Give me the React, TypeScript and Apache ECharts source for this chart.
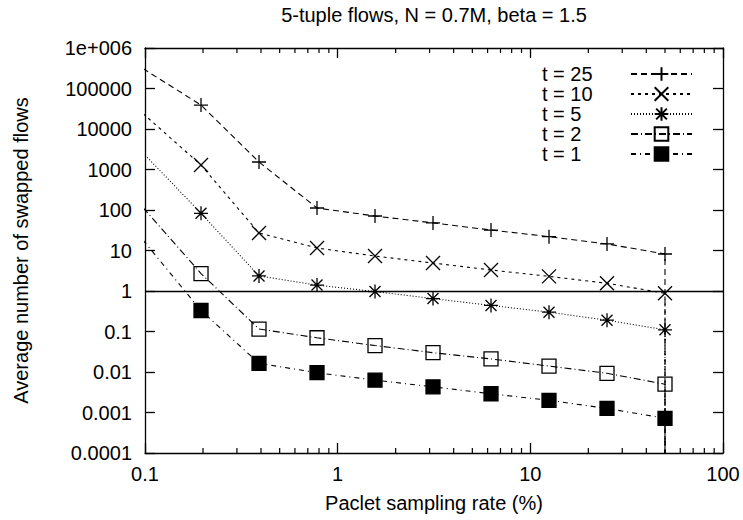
import React, { useEffect, useRef } from 'react';
import * as echarts from 'echarts';

const titleText = '5-tuple flows, N = 0.7M, beta = 1.5';
const xAxisName = 'Paclet sampling rate (%)';
const yAxisName = 'Average number of swapped flows';

const seriesNames = ['t = 25', 't = 10', 't = 5', 't = 2', 't = 1'];
const samplingRates = [0.09765625, 0.1953125, 0.390625, 0.78125, 1.5625, 3.125, 6.25, 12.5, 25, 50];

const t25 = [310000, 39000, 1530, 112, 71, 48, 32, 22, 14.5, 8.2];
const t10 = [24000, 1290, 27, 11.5, 7.3, 4.9, 3.3, 2.3, 1.55, 0.88];
const t5 = [2560, 83, 2.35, 1.4, 0.97, 0.65, 0.44, 0.3, 0.19, 0.11];
const t2 = [114, 2.7, 0.115, 0.07, 0.045, 0.03, 0.021, 0.014, 0.0093, 0.005];
const t1 = [18, 0.33, 0.0164, 0.0096, 0.0063, 0.0043, 0.0029, 0.002, 0.00126, 0.00072];

// value at the last sampling rate that drops to zero (off the log scale)
const tailFloor = 1e-9;
const referenceLevel = 1;

const xTickLabels = ['0.1', '1', '10', '100'];
const yTickLabels = ['0.0001', '0.001', '0.01', '0.1', '1', '10', '100', '1000', '10000', '100000', '1e+006'];
const xMinorTicks = [0.2, 0.3, 0.4, 0.5, 0.6, 0.7, 0.8, 0.9, 2, 3, 4, 5, 6, 7, 8, 9, 20, 30, 40, 50, 60, 70, 80, 90];

const FONT = '"Liberation Sans", Arial, Helvetica, sans-serif';
const FS = 20;

const symbols = [
  'path://M0,7L14,7M7,0L7,14',
  'path://M0,0L14,14M0,14L14,0',
  'path://M0,7L14,7M7,0L7,14M1.5,1.5L12.5,12.5M1.5,12.5L12.5,1.5',
  'rect',
  'rect',
];
const fills = ['#000', '#000', '#000', 'none', '#000'];
const dashes: any[] = [[6, 4], [3, 4], [1, 2], [7, 3, 1, 3], [5, 4, 1, 4]];
const allValues = [t25, t10, t5, t2, t1];

export default function App() {
  const ref = useRef<HTMLDivElement>(null);
  useEffect(() => {
    if (!ref.current) return;
    const chart = echarts.init(ref.current, undefined, { renderer: 'svg' });
    const last = samplingRates[samplingRates.length - 1];

    const lineSeries = allValues.map((vals, si) => ({
      name: seriesNames[si],
      type: 'line',
      data: samplingRates
        .map((x, i) => (i === 0 ? { value: [x, vals[i]], symbol: 'none' } : { value: [x, vals[i]] }))
        .concat([{ value: [last, tailFloor], symbol: 'none' }]),
      symbol: symbols[si],
      symbolSize: 14,
      clip: true,
      lineStyle: { color: '#000', width: 1.1, type: dashes[si] },
      itemStyle: { color: fills[si], borderColor: '#000', borderWidth: 1.3 },
      emphasis: { disabled: true },
      z: 3,
      ...(si === 0
        ? {
            markLine: {
              silent: true,
              symbol: ['none', 'none'],
              label: { show: false },
              lineStyle: { color: '#000', type: 'solid', width: 1.3 },
              data: [{ yAxis: referenceLevel }],
            },
          }
        : {}),
    }));

    const minorSeries = {
      type: 'custom',
      silent: true,
      clip: false,
      z: 5,
      data: xMinorTicks.map((v) => [v, referenceLevel]),
      renderItem: (params: any, api: any) => {
        const x = api.coord([api.value(0), referenceLevel])[0];
        const cs = params.coordSys;
        const st = { stroke: '#000', lineWidth: 1.2 };
        return {
          type: 'group',
          children: [
            { type: 'line', shape: { x1: x, y1: cs.y + cs.height, x2: x, y2: cs.y + cs.height - 5 }, style: st },
            { type: 'line', shape: { x1: x, y1: cs.y, x2: x, y2: cs.y + 5 }, style: st },
          ],
        };
      },
    };

    const xFmt = (v: number) => xTickLabels[Math.round(Math.log10(v)) + 1] ?? '';
    const yFmt = (v: number) => yTickLabels[Math.round(Math.log10(v)) + 4] ?? '';
    const axisLine = { show: true, onZero: false, lineStyle: { color: '#000', width: 1.3 } };
    const majorTick = { show: true, inside: true, length: 10, lineStyle: { color: '#000', width: 1.3 } };

    chart.setOption({
      animation: false,
      backgroundColor: '#fff',
      textStyle: { fontFamily: FONT },
      grid: { left: 145, right: 20, top: 48, bottom: 67, containLabel: false },
      graphic: [
        {
          type: 'text',
          x: 434,
          y: 5,
          style: { text: titleText, fill: '#000', font: `${FS}px ${FONT}`, align: 'center', verticalAlign: 'top' },
        },
      ],
      legend: {
        data: seriesNames,
        orient: 'vertical',
        right: 45,
        top: 59,
        align: 'right',
        itemWidth: 61,
        itemHeight: 17,
        itemGap: 0,
        selectedMode: false,
        formatter: (name: string) => `{a|${name}}`,
        textStyle: {
          color: '#000',
          fontFamily: FONT,
          fontSize: FS,
          rich: { a: { width: 84, align: 'left', fontSize: FS, lineHeight: 20, fontFamily: FONT, color: '#000' } },
        },
      },
      xAxis: [
        {
          type: 'log',
          logBase: 10,
          min: 0.1,
          max: 100,
          position: 'bottom',
          name: xAxisName,
          nameLocation: 'middle',
          nameGap: 40,
          nameTextStyle: { color: '#000', fontSize: FS, fontFamily: FONT },
          axisLine,
          axisTick: majorTick,
          axisLabel: { color: '#000', fontSize: FS, fontFamily: FONT, margin: 11, formatter: xFmt },
          splitLine: { show: false },
          minorTick: { show: false },
        },
        {
          type: 'log',
          logBase: 10,
          min: 0.1,
          max: 100,
          position: 'top',
          axisLine,
          axisTick: majorTick,
          axisLabel: { show: false },
          splitLine: { show: false },
        },
      ],
      yAxis: [
        {
          type: 'log',
          logBase: 10,
          min: 0.0001,
          max: 1000000,
          splitNumber: 10,
          position: 'left',
          name: yAxisName,
          nameLocation: 'middle',
          nameGap: 114,
          nameRotate: 90,
          nameTextStyle: { color: '#000', fontSize: FS, fontFamily: FONT },
          axisLine,
          axisTick: majorTick,
          axisLabel: { color: '#000', fontSize: FS, fontFamily: FONT, margin: 13, formatter: yFmt },
          splitLine: { show: false },
        },
        {
          type: 'log',
          logBase: 10,
          min: 0.0001,
          max: 1000000,
          splitNumber: 10,
          position: 'right',
          axisLine,
          axisTick: majorTick,
          axisLabel: { show: false },
          splitLine: { show: false },
        },
      ],
      series: [...lineSeries, minorSeries],
    });
    return () => chart.dispose();
  }, []);

  return (
    <div
      ref={ref}
      style={{ position: 'fixed', left: 0, top: 0, width: 743, height: 520, background: '#fff' }}
    />
  );
}
